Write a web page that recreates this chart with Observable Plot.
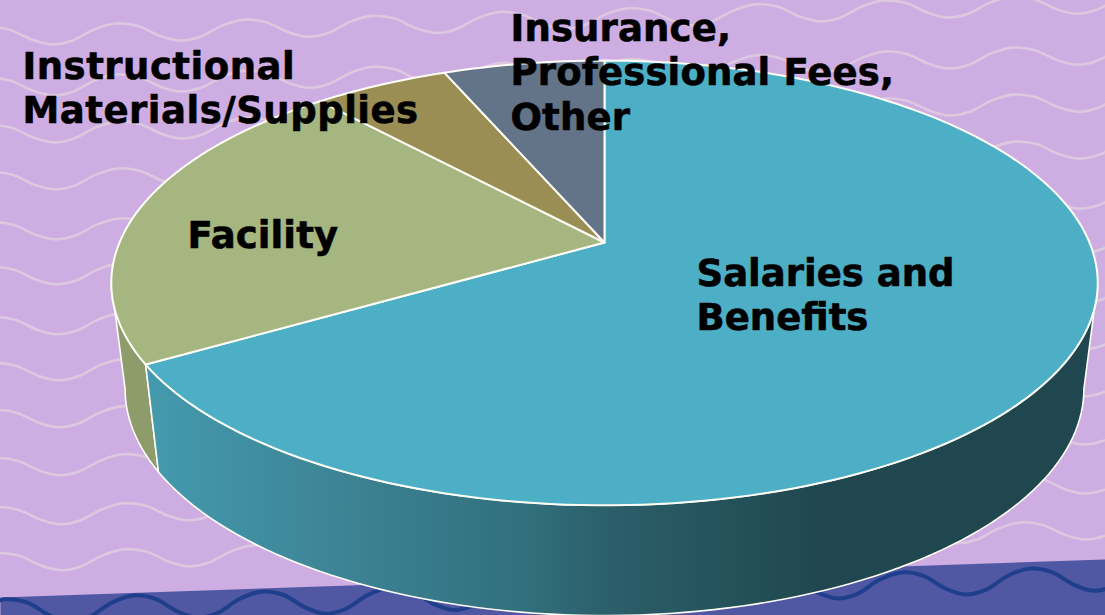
<!DOCTYPE html>
<html><head><meta charset="utf-8">
<script src="https://cdn.jsdelivr.net/npm/d3@7"></script>
<script src="https://cdn.jsdelivr.net/npm/@observablehq/plot@0.6"></script>
<style>html,body{margin:0;padding:0;background:#CDADE2;overflow:hidden}svg{display:block}
.lab0{letter-spacing:0}.lab1{letter-spacing:.1px}.lab2{letter-spacing:.5px}.lab3{letter-spacing:.15px}</style>
</head><body><div id="chart"></div>
<script>
// Chart data (percent shares, clockwise from the top)
const categories = ["Salaries and Benefits", "Facility", "Instructional Materials/Supplies", "Insurance, Professional Fees, Other"];
const shares = [66.4, 22.0, 5.3, 6.3];
const topColors = ["#4DAFC6", "#A6B680", "#9A8E54", "#637488"];
const labelLines = ["Salaries and\nBenefits", "Facility", "Instructional\nMaterials/Supplies", "Insurance,\nProfessional Fees,\nOther"];
const labelX = [696, 187, 22, 510];
const labelY = [254, 216, 47, 9];

// Pie perspective (reference geometry)
const cx = 604, cy = 242, kx = 485, ky = 215, tilt = -0.182;
const lowX = 0.972, lowY = 1.02, lowY0 = 347;

const pt = (deg, low) => {
  const t = deg * Math.PI / 180, u = Math.sin(t), v = -Math.cos(t), w = 1 + tilt * v;
  return low
    ? {x: cx + lowX * kx * u / w, y: lowY0 + cy - 242 + lowY * ky * v / w}
    : {x: cx + kx * u / w, y: cy + ky * v / w};
};
const arc = (a, b, low) => {
  const n = Math.max(2, Math.ceil(Math.abs(b - a) / 1.5));
  return d3.range(n + 1).map(i => pt(a + (b - a) * i / n, low));
};
const close = p => [...p, p[0]];
const X = {x: "x", y: "y"};

// Slices
let acc = 0;
const angles = shares.map(s => { const a = [acc * 3.6, (acc + s) * 3.6]; acc += s; return a; });
const slices = angles.map(([a, b]) => close([{x: cx, y: cy}, ...arc(a, b, false)]));

// Walls
const tangent = Math.acos(tilt) * 180 / Math.PI;
const wallSalaries = close([...arc(tangent, angles[0][1], false), ...arc(angles[0][1], tangent, true)]);
const wallFacility = close([...arc(angles[0][1], 360 - tangent, false), ...arc(360 - tangent, angles[0][1], true)]);

// Background decoration
const bandLeft = 597, bandRight = 559;
const band = [{x: 0, y: bandLeft}, {x: 1105, y: bandRight}, {x: 1105, y: 615}, {x: 0, y: 615}, {x: 0, y: bandLeft}];
const paleRows = [-70, -20, 27, 78, 125, 172, 222, 267, 317, 363, 410, 458, 507, 553];
const darkRows = [611, 660];
const tileX = [0, 20, 42, 64, 86, 108];
const tileY = [9, 6, -4, -9, -6, 4];
const wave = (base, period, start, amp, shift) => {
  const pts = [];
  for (let k = -1; k < 11; k++) tileX.forEach((tx, i) => {
    const x = start + shift + k * period + tx * period / 128;
    pts.push({x, y: base - 0.03 * x + amp * tileY[i] / 9});
  });
  return pts;
};
const pale = paleRows.map((r, i) => wave(r + 9, 128, 50, 9.5, i * 0.8));
const dark = darkRows.map(r => wave(r, 128, 69, 12, 0));

const defs = () => {
  const d = d3.create("svg:defs");
  const g = d.append("linearGradient").attr("id", "wallGrad").attr("gradientUnits", "userSpaceOnUse")
    .attr("x1", 155).attr("x2", 820).attr("y1", 0).attr("y2", 0);
  [[0, "#4499AD"], [0.3, "#3C8293"], [0.55, "#31707D"], [0.68, "#2B5F6A"], [1, "#20474F"]]
    .forEach(([o, c]) => g.append("stop").attr("offset", o).attr("stop-color", c));
  return d.node();
};

const poly = (p, fill, stroke = "#FDFDF5", strokeWidth = 2) =>
  Plot.line(p, {...X, fill, stroke, strokeWidth, curve: "linear", strokeLinejoin: "round"});

const chart = Plot.plot({
  width: 1105, height: 615, margin: 0,
  style: {background: "#CDADE2", overflow: "hidden"},
  x: {axis: null, domain: [0, 1105], range: [0, 1105]},
  y: {axis: null, domain: [0, 615], range: [0, 615]},
  marks: [
    defs,
    ...pale.map(p => Plot.line(p, {...X, stroke: "#DEC8E0", strokeWidth: 2.6, curve: "catmull-rom"})),
    poly(band, "#5057A3", "none", 0),
    ...dark.map(p => Plot.line(p, {...X, stroke: "#1F3F8C", strokeWidth: 4, curve: "catmull-rom"})),
    poly(wallFacility, "#8E9C6B", "#FDFDF5", 1.6),
    poly(wallSalaries, "url(#wallGrad)", "#FDFDF5", 1.6),
    ...slices.map((s, i) => poly(s, topColors[i])),
    ...labelLines.map((t, i) => Plot.text([t], {
      x: () => labelX[i], y: () => labelY[i], text: d => d,
      className: "lab" + i,
      textAnchor: "start", lineAnchor: "top", lineHeight: 1.2,
      fontSize: 37, fontWeight: "bold", fontFamily: "DejaVu Sans",
      fill: "#000", stroke: "#000", strokeWidth: 0.6
    }))
  ]
});
document.getElementById("chart").append(chart);
</script></body></html>
